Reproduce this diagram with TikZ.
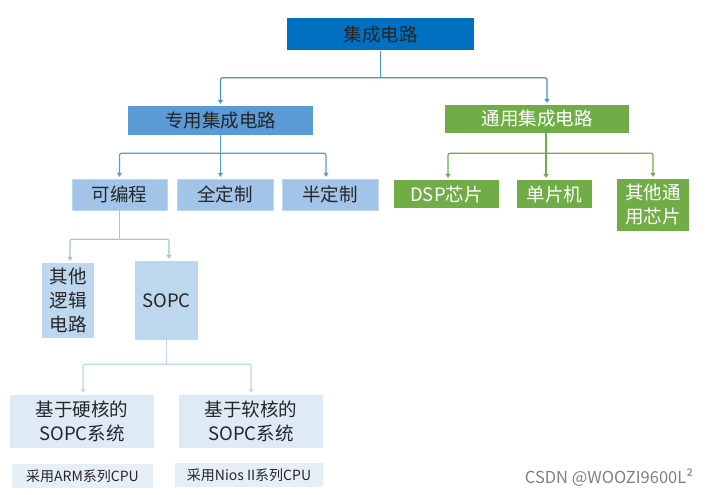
\documentclass[tikz,border=0pt]{standalone}
\usepackage{fontspec}
\setmainfont{Noto Sans CJK SC}
\usetikzlibrary{arrows.meta}
\definecolor{topblue}{HTML}{0070C0}
\definecolor{midblue}{HTML}{5B9BD5}
\definecolor{lowblue}{HTML}{A2C4E8}
\definecolor{paleblue}{HTML}{BDD7EE}
\definecolor{faintblue}{HTML}{DEEBF7}
\definecolor{cpublue}{HTML}{E6EEF8}
\definecolor{linkblue}{HTML}{4A90D0}
\definecolor{treegreen}{HTML}{70AD47}
\definecolor{darktext}{HTML}{262626}
\tikzset{
  box/.style={inner sep=0pt, align=center, text=darktext, font=\fontsize{18.5}{24}\selectfont},
  lnk/.style={line width=1.2pt, rounded corners=2pt},
  tip/.style={-{Triangle[width=5pt,length=4pt]}, shorten >=2pt}
}

\begin{document}
\begin{tikzpicture}[x=1pt, y=-1pt]
\useasboundingbox[fill=white] (0,0) rectangle (721,495);

\node[box, fill=topblue, minimum width=187pt, minimum height=32pt] (top) at (380.5,34.5) {集成电路};
\node[box, fill=midblue, minimum width=185pt, minimum height=29pt] (zy) at (220.5,120.5) {专用集成电路};
\node[box, fill=treegreen, text=white, minimum width=184pt, minimum height=28pt] (ty) at (537,119) {通用集成电路};

\node[box, fill=lowblue, draw=paleblue, minimum width=95pt, minimum height=31pt] (kbc) at (119.5,194.5) {可编程};
\node[box, fill=lowblue, draw=paleblue, minimum width=96pt, minimum height=31pt] (qdz) at (225,194.5) {全定制};
\node[box, fill=lowblue, draw=paleblue, minimum width=96pt, minimum height=31pt] (bdz) at (330,194.5) {半定制};

\node[box, fill=treegreen, text=white, minimum width=105pt, minimum height=28pt] (dsp) at (446.5,194) {DSP芯片};
\node[box, fill=treegreen, text=white, minimum width=75pt, minimum height=28pt] (dpj) at (554.5,194) {单片机};
\node[box, fill=treegreen, text=white, minimum width=72pt, minimum height=52pt] (qtty) at (653,205) {其他通\\用芯片};

\node[box, fill=paleblue, minimum width=52pt, minimum height=75pt] (qtlj) at (68,300.5) {其他\\逻辑\\电路};
\node[box, fill=paleblue, minimum width=63pt, minimum height=79pt] (sopc) at (166.5,300.5) {SOPC};

\node[box, fill=faintblue, minimum width=144pt, minimum height=53pt] (yh) at (82,421.5) {基于硬核的\\SOPC系统};
\node[box, fill=faintblue, minimum width=144pt, minimum height=53pt] (rh) at (251,421.5) {基于软核的\\SOPC系统};
\node[box, fill=cpublue, minimum width=141pt, minimum height=24pt, font=\fontsize{14}{16}\selectfont] (arm) at (82.5,476) {采用ARM系列CPU};
\node[box, fill=cpublue, minimum width=148pt, minimum height=24pt, font=\fontsize{14}{16}\selectfont] (nios) at (249,475) {采用Nios II系列CPU};

\draw[lnk, linkblue] (top.south) -- ++(0,27) coordinate (f0);
\draw[lnk, linkblue, tip] (f0) -| (zy.north);
\draw[lnk, linkblue, tip] (f0) -| ([xshift=10pt]ty.north);

\draw[lnk, midblue] (zy.south) -- ++(0,18) coordinate (f1);
\draw[lnk, midblue, tip] (f1) -| (kbc.north);
\draw[lnk, midblue, tip] (f1) -- (f1 |- qdz.north);
\draw[lnk, midblue, tip] (f1) -| ([xshift=-4pt]bdz.north);

\draw[lnk, treegreen] ([xshift=9pt]ty.south) -- ++(0,20) coordinate (f2);
\draw[lnk, treegreen, tip] (f2) -| ([xshift=1.5pt]dsp.north);
\draw[lnk, treegreen, tip] (f2) -- (f2 |- dpj.north);
\draw[lnk, treegreen, tip] (f2) -| (qtty.north);

\draw[lnk, lowblue] (kbc.south) -- ++(0,29) coordinate (f3);
\draw[lnk, lowblue, tip] (f3) -| ([xshift=2pt]qtlj.north);
\draw[lnk, lowblue, tip] (f3) -| ([xshift=2.5pt]sopc.north);

\draw[lnk, paleblue] (sopc.south) -- ++(0,24) coordinate (f4);
\draw[lnk, paleblue, tip] (f4) -| ([xshift=1pt]yh.north);
\draw[lnk, paleblue, tip] (f4) -| (rh.north);

\node[text=gray, font=\fontsize{16.5}{18}\selectfont] (mark) at (609,478) {CSDN @WOOZI9600L²};
\end{tikzpicture}
\end{document}
